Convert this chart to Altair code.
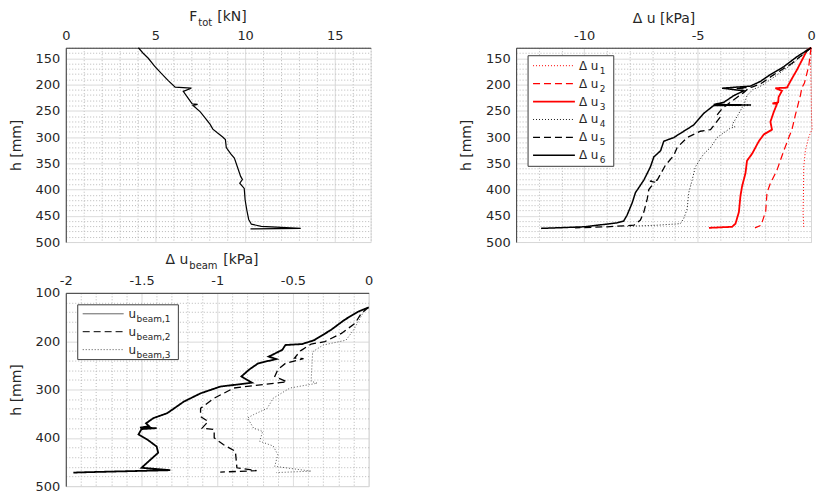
import altair as alt
import pandas as pd

FONT = "DejaVu Sans"
TXT = "#262626"

# ---------------- data: top-left (F_tot vs h) ----------------
tl_F = [4.05, 4.3, 4.6, 4.95, 5.3, 5.7, 6.1, 7.0, 6.55, 6.8, 7.05, 7.35, 7.1, 7.5, 7.8, 8.05, 8.2, 8.45,
        8.75, 8.9, 8.95, 9.2, 9.4, 9.6, 9.75, 9.85, 9.7, 9.95, 10.0, 10.1, 10.2, 10.35, 10.9, 12.0, 13.1, 10.3]
tl_h = [130, 140, 150, 165, 178, 192, 205, 207, 213, 225, 237, 238, 240, 252, 265, 276, 285, 292,
        300, 305, 320, 332, 340, 360, 375, 381, 388, 398, 420, 440, 457, 466, 470, 472, 474, 475]

# ---------------- data: top-right (delta u vs h) ----------------
tr_names = ["u1", "u2", "u3", "u4", "u5", "u6"]
tr_subs = ["1", "2", "3", "4", "5", "6"]
u1 = [0, -0.02, 0.0, 0.02, 0.05, -0.1, -0.25, -0.32, -0.33, -0.35, -0.32]
h1 = [130, 160, 200, 260, 285, 300, 326, 357, 400, 443, 473]
u2 = [0, -0.1, -0.29, -0.4, -0.47, -0.69, -0.84, -0.98, -1.2, -1.5, -1.79, -1.94, -2.0, -2.08, -2.2, -2.47]
h2 = [130, 165, 197, 206, 221, 258, 286, 301, 326, 363, 388, 406, 443, 452, 468, 473]
u3 = [0, -0.18, -0.32, -0.62, -0.91, -1.06, -1.57, -1.28, -1.43, -1.45, -1.7, -1.5, -1.64, -1.79, -1.72,
      -2.08, -2.3, -2.6, -2.82, -2.89, -3.04, -3.11, -3.18, -3.33, -3.48, -4.5]
h3 = [130, 135, 147, 172, 194, 206, 207, 212, 224, 234, 236, 237, 252, 271, 286,
      295, 308, 332, 345, 369, 394, 412, 443, 465, 471, 473]
u4 = [0, -0.8, -1.6, -2.1, -2.35, -2.55, -2.82, -2.95, -2.6, -3.0, -3.18, -3.48, -3.35, -3.55, -3.85,
      -4.14, -4.43, -4.73, -5.1, -5.24, -5.39, -5.46, -5.61, -5.76, -6.8, -8.1]
h4 = [130, 160, 185, 200, 206, 209, 221, 238, 239, 241, 255, 277, 281, 283, 292,
      301, 320, 332, 357, 382, 406, 437, 455, 465, 468, 470]
u5 = [0, -0.85, -1.7, -2.2, -2.6, -3.3, -2.8, -2.96, -3.5, -3.92, -4.14, -4.0, -4.43, -4.88, -5.46,
      -5.9, -6.05, -6.42, -6.78, -7.1, -6.9, -7.15, -7.22, -7.37, -7.52, -7.81, -9.0, -10.4]
h5 = [130, 160, 183, 198, 205, 207, 209, 215, 232, 246, 258, 262, 286, 289, 301,
      320, 335, 354, 382, 384, 386, 400, 418, 443, 458, 468, 471, 473]
u6 = [0, -0.62, -1.2, -1.79, -2.23, -2.67, -3.92, -2.96, -3.4, -3.85, -4.29, -2.67, -4.29, -4.73, -5.17,
      -5.61, -6.05, -6.49, -6.63, -6.93, -7.08, -7.37, -7.74, -7.88, -8.11, -8.26, -8.55, -10.0, -11.9]
h6 = [130, 147, 166, 181, 194, 203, 207, 212, 221, 234, 238, 239, 240, 255, 277,
      289, 301, 308, 326, 338, 357, 382, 406, 425, 449, 460, 463.5, 471, 474]
tr_u = [u1, u2, u3, u4, u5, u6]
tr_h = [h1, h2, h3, h4, h5, h6]
tr_colors = ["#ff0000", "#ff0000", "#ff0000", "#000000", "#000000", "#000000"]
tr_dashes = [[1, 2], [7, 4], [1, 0], [1, 2], [7, 4], [1, 0]]
tr_widths = [1.0, 1.2, 1.8, 0.9, 1.3, 1.5]

# ---------------- data: bottom-left (delta u_beam vs h) ----------------
bl_names = ["b1", "b2", "b3"]
bl_subs = ["beam,1", "beam,2", "beam,3"]
b1u = [0, -0.07, -0.16, -0.25, -0.36, -0.44, -0.55, -0.57, -0.66, -0.61, -0.73, -0.79, -0.84, -0.77,
       -0.98, -1.11, -1.22, -1.33, -1.42, -1.47, -1.45, -1.51, -1.40, -1.50, -1.52, -1.46, -1.4, -1.39,
       -1.44, -1.5, -1.31, -1.84, -1.95]
b1h = [130, 139, 156, 177, 198, 206, 208, 218, 232, 237, 246, 259, 273, 286,
       294, 308, 325, 349, 359, 370, 376, 379, 380, 382, 393, 404, 418, 431,
       445, 462, 467, 471, 472]
b2u = [0, -0.05, -0.09, -0.18, -0.29, -0.38, -0.45, -0.49, -0.43, -0.55, -0.6, -0.62, -0.54, -0.89,
       -1.02, -1.11, -1.11, -1.06, -1.1, -1.02, -1.02, -0.96, -0.88, -0.87, -0.74, -0.98]
b2h = [130, 143, 163, 184, 201, 206, 220, 235, 236, 246, 259, 273, 284, 297,
       318, 339, 356, 366, 380, 383, 400, 414, 428, 462, 468, 471]
b3u = [0, -0.04, -0.1, -0.15, -0.3, -0.37, -0.38, -0.34, -0.52, -0.63, -0.67, -0.76, -0.8, -0.76,
       -0.7, -0.72, -0.63, -0.6, -0.62, -0.38, -0.61]
b3h = [130, 143, 177, 198, 208, 222, 283, 287, 297, 318, 339, 352, 359, 380,
       387, 407, 417, 435, 459, 469, 472]
bl_u = [b1u, b2u, b3u]
bl_h = [b1h, b2h, b3h]
bl_colors = ["#000000", "#000000", "#404040"]
bl_sample_colors = ["#4d4d4d", "#000000", "#4d4d4d"]
bl_dashes = [[1, 0], [7, 4], [1, 2]]
bl_widths = [1.8, 1.3, 0.9]


def make_axis(values, test, orient, title="", fmt="toString(datum.value)", **kw):
    return alt.Axis(
        orient=orient, values=values, title=title,
        labelExpr=f"({test}) ? {fmt} : ''",
        grid=True,
        gridDash={"condition": {"test": test, "value": [1, 0]}, "value": [1, 2]},
        gridColor={"condition": {"test": test, "value": "#d6d6d6"}, "value": "#b8b8b8"},
        gridWidth=1,
        ticks=False, labelOverlap=False, labelFlush=False,
        domainColor="#3c3c3c", labelFont=FONT, labelFontSize=13, labelColor=TXT,
        titleFont=FONT, titleFontSize=14, titleFontWeight="normal", titleColor=TXT,
        **kw)


one = pd.DataFrame({"k": [0]})


def text_piece(txt, x, y, size):
    return alt.Chart(one).mark_text(align="left", baseline="alphabetic", font=FONT,
                                    fontSize=size, color=TXT).encode(
        x=alt.value(x), y=alt.value(y), text=alt.value(txt))


def series_lines(us, hs, colors, dashes, widths, xenc, yenc):
    layers = []
    for u, h, c, d, w in zip(us, hs, colors, dashes, widths):
        df = pd.DataFrame({"u": u, "h": h, "i": list(range(len(u)))})
        layers.append(alt.Chart(df).mark_line(color=c, strokeDash=d, strokeWidth=w).encode(
            x=xenc, y=yenc, order=alt.Order("i:Q")))
    return layers


def legend_layers(names, subs, main, colors, dashes, widths, yenc, x0, x1, xt, xs):
    df = pd.DataFrame({"key": names, "row": list(range(len(names))),
                       "main": [main] * len(names), "sub": subs})
    layers = []
    for n, c, d, w in zip(names, colors, dashes, widths):
        layers.append(alt.Chart(df).transform_filter(alt.datum.key == n).mark_rule(
            color=c, strokeDash=d, strokeWidth=w).encode(x=alt.value(x0), x2=alt.value(x1), y=yenc))
    layers.append(alt.Chart(df).mark_text(align="left", baseline="middle", font=FONT, fontSize=12,
                                          color=TXT).encode(x=alt.value(xt), y=yenc, text="main:N"))
    layers.append(alt.Chart(df).mark_text(align="left", baseline="middle", font=FONT, fontSize=9,
                                          color=TXT, dy=5).encode(x=alt.value(xs), y=yenc, text="sub:N"))
    return alt.layer(*layers)


h_vals_130 = list(range(130, 501, 10))
h_test_130 = "datum.value % 50 === 0"

# ---------------- top-left ----------------
df_tl = pd.DataFrame({"F": tl_F, "h": tl_h, "i": list(range(len(tl_F)))})
tl_line = alt.Chart(df_tl).mark_line(color="black", strokeWidth=1.2).encode(
    x=alt.X("F:Q", scale=alt.Scale(domain=[0, 17], nice=False),
            axis=make_axis(list(range(0, 18)), "datum.value % 5 === 0", "top", labelPadding=5)),
    y=alt.Y("h:Q", scale=alt.Scale(domain=[130, 500], reverse=True, nice=False),
            axis=make_axis(h_vals_130, h_test_130, "left", title="h [mm]",
                           titlePadding=12, labelPadding=6)),
    order=alt.Order("i:Q"))
tl = alt.layer(
    tl_line,
    text_piece("F", 124, -27, 14),
    text_piece("tot", 133, -22, 10),
    text_piece("[kN]", 152, -27, 14),
).properties(width=306, height=195)

# ---------------- top-right ----------------
x_tr = alt.X("u:Q", scale=alt.Scale(domain=[-13, 0], nice=False),
             axis=make_axis(list(range(-13, 1)), "datum.value % 5 === 0", "top",
                            title="Δ u [kPa]", labelPadding=5, titlePadding=4))
y_tr = alt.Y("h:Q", scale=alt.Scale(domain=[130, 500], reverse=True, nice=False),
             axis=make_axis(h_vals_130, h_test_130, "left", title="h [mm]",
                            titlePadding=12, labelPadding=6))
tr_box = alt.Chart(one).mark_rect(fill="white", stroke="#3c3c3c", strokeWidth=1).encode(
    x=alt.value(12), x2=alt.value(98), y=alt.value(8), y2=alt.value(119))
ytr = alt.Y("row:Q", scale=alt.Scale(domain=[0, 5], range=[18, 108]), axis=None)
tr = alt.layer(
    alt.layer(*series_lines(tr_u, tr_h, tr_colors, tr_dashes, tr_widths, x_tr, y_tr), tr_box),
    legend_layers(tr_names, tr_subs, "Δ u", tr_colors, tr_dashes, tr_widths, ytr, 17, 59, 63, 84),
).resolve_scale(y="independent").properties(width=296, height=195)

# ---------------- bottom-left ----------------
bl_xvals = [round(-2 + 0.1 * k, 1) for k in range(21)]
x_bl = alt.X("u:Q", scale=alt.Scale(domain=[-2, 0], nice=False),
             axis=make_axis(bl_xvals, "abs(round(datum.value*10)) % 5 === 0", "top",
                            fmt="toString(round(datum.value*10)/10)", labelPadding=5))
y_bl = alt.Y("h:Q", scale=alt.Scale(domain=[100, 500], reverse=True, nice=False),
             axis=make_axis(list(range(100, 501, 20)), "datum.value % 100 === 0", "left",
                            title="h [mm]", titlePadding=12, labelPadding=6))
bl_box = alt.Chart(one).mark_rect(fill="white", stroke="#3c3c3c", strokeWidth=1).encode(
    x=alt.value(12), x2=alt.value(113), y=alt.value(12), y2=alt.value(67))
ybl = alt.Y("row:Q", scale=alt.Scale(domain=[0, 2], range=[21, 57]), axis=None)
bl = alt.layer(
    alt.layer(*series_lines(bl_u, bl_h, bl_colors, bl_dashes, bl_widths, x_bl, y_bl), bl_box,
              text_piece("Δ u", 100, -29, 14),
              text_piece("beam", 124, -24, 10),
              text_piece("[kPa]", 158, -29, 14)),
    legend_layers(bl_names, bl_subs, "u", bl_sample_colors, bl_dashes, [1, 1, 1], ybl, 17, 58, 63, 71),
).resolve_scale(y="independent").properties(width=304, height=194)

chart = alt.concat(tl, tr, bl, columns=2, spacing={"row": 2, "column": 85}).properties(
    padding=0).configure_view(stroke="#d6d6d6").configure(background="white")

chart.save("out.html", embed_options={"renderer": "svg", "actions": False})
